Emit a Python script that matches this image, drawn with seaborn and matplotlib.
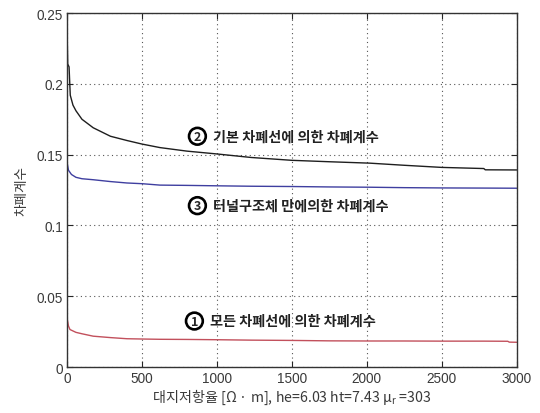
import matplotlib
matplotlib.use("Agg")
import matplotlib.pyplot as plt
import seaborn as sns
import pandas as pd
from matplotlib.ticker import FixedLocator, FuncFormatter

# Earth resistivity [Ω·m]
rho_basic = [0, 5, 14, 22, 40, 60, 100, 175, 290, 400, 500, 620, 800, 1000,
             1230, 1500, 1750, 2020, 2250, 2500, 2780, 2790, 3000]
# ② shielding factor from the basic shield wire
sf_basic = [0.241, 0.214, 0.212, 0.192, 0.185, 0.181, 0.175, 0.169, 0.163,
            0.160, 0.1575, 0.155, 0.1525, 0.1505, 0.148, 0.146, 0.145, 0.144,
            0.1425, 0.141, 0.1402, 0.1393, 0.1392]

rho_tunnel = [0, 10, 30, 60, 100, 175, 290, 400, 500, 620, 800, 1000, 1230,
              1500, 1750, 2020, 2250, 2500, 2780, 3000]
# ③ shielding factor from the tunnel structure only
sf_tunnel = [0.145, 0.139, 0.136, 0.134, 0.133, 0.1323, 0.131, 0.130, 0.1295,
             0.1285, 0.1283, 0.1280, 0.1277, 0.1275, 0.1272, 0.1270, 0.1267,
             0.1265, 0.1264, 0.1263]

rho_all = [0, 10, 20, 60, 100, 175, 290, 400, 500, 620, 800, 1000, 1230, 1500,
           1750, 2020, 2250, 2500, 2780, 2940, 2950, 3000]
# ① shielding factor from all shield wires
sf_all = [0.035, 0.029, 0.0265, 0.0245, 0.0235, 0.0218, 0.0208, 0.0200,
          0.0198, 0.0196, 0.0195, 0.0193, 0.0190, 0.0188, 0.0185, 0.0184,
          0.0184, 0.0183, 0.0183, 0.0182, 0.0176, 0.0175]

x_ticks = [0, 500, 1000, 1500, 2000, 2500, 3000]
y_ticks = [0, 0.05, 0.1, 0.15, 0.2, 0.25]

sns.set_style("ticks")
plt.rcParams["font.family"] = ["Liberation Sans", "Noto Sans CJK KR", "DejaVu Sans"]
plt.rcParams["mathtext.fontset"] = "custom"
plt.rcParams["mathtext.rm"] = "Noto Sans CJK KR"
plt.rcParams["mathtext.it"] = "Noto Sans CJK KR"

kr_font = ["Noto Sans CJK KR", "DejaVu Sans"]

fig = plt.figure(figsize=(5.4, 4.14), dpi=100)
ax = fig.add_axes([0.124, 0.111, 0.833, 0.855])

sns.lineplot(data=pd.DataFrame({"x": rho_basic, "y": sf_basic}), x="x", y="y",
             ax=ax, color="#1e1e1e", lw=1.0)
sns.lineplot(data=pd.DataFrame({"x": rho_tunnel, "y": sf_tunnel}), x="x", y="y",
             ax=ax, color="#3f3fa0", lw=1.0)
sns.lineplot(data=pd.DataFrame({"x": rho_all, "y": sf_all}), x="x", y="y",
             ax=ax, color="#c2505c", lw=1.0)

ax.set_xlim(0, 3000)
ax.set_ylim(0, 0.25)
ax.xaxis.set_major_locator(FixedLocator(x_ticks))
ax.yaxis.set_major_locator(FixedLocator(y_ticks))
ax.yaxis.set_major_formatter(FuncFormatter(lambda v, p: f"{v:g}"))
ax.tick_params(direction="in", top=True, right=True, length=4, width=0.8,
               labelsize=9.8, labelcolor="#3a3a3a", pad=3)
ax.grid(True, linestyle=(0, (1, 3)), color="#555555", lw=0.8)
for s in ax.spines.values():
    s.set_color("#333333")
    s.set_linewidth(1.0)

ax.set_xlabel("대지저항율 [Ω · m], he=6.03 ht=7.43 $\\mu_{\\rm r}$ =303",
              fontsize=10.2, color="#3a3a3a", labelpad=1, family=kr_font)
ax.set_ylabel("차폐계수", fontsize=9.8, color="#3a3a3a", labelpad=6,
              family=kr_font)

labels = [("2", "기본 차폐선에 의한 차폐계수", 870, 0.163),
          ("3", "터널구조체 만에의한 차폐계수", 870, 0.114),
          ("1", "모든 차폐선에 의한 차폐계수", 850, 0.0325)]
for num, txt, xv, yv in labels:
    ax.text(xv, yv, num, fontsize=9, fontweight="bold", ha="center",
            va="center", family=kr_font,
            bbox=dict(boxstyle="circle,pad=0.15", fc="white", ec="black", lw=1.9))
    ax.text(xv + 105, yv, txt, fontsize=10.2, fontweight="bold", ha="left",
            va="center", family=kr_font, color="#222222")

fig.savefig("out.png", dpi=100, facecolor="white")
